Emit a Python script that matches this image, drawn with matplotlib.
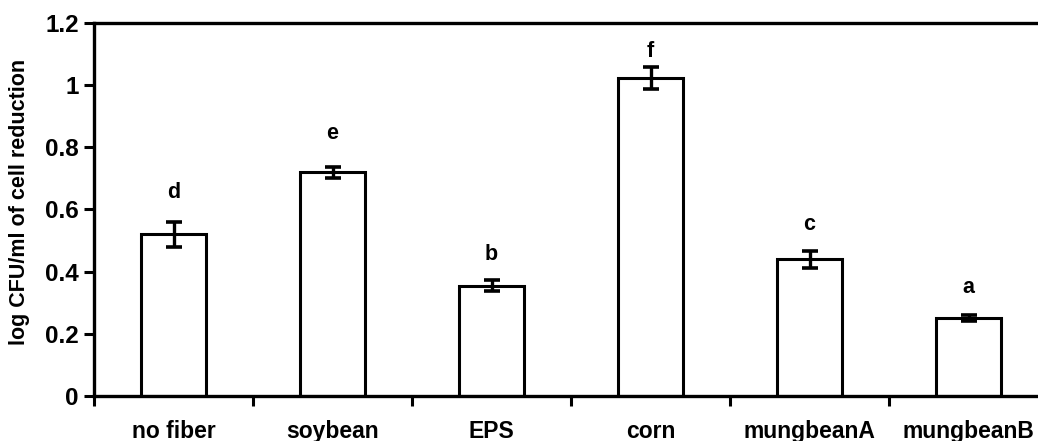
import numpy as np
import matplotlib
matplotlib.use("Agg")
import matplotlib.pyplot as plt

plt.rcParams['font.family'] = ['Liberation Sans', 'DejaVu Sans']
plt.rcParams['font.weight'] = 'bold'

# ---- data ----
treatments = ["no fiber", "soybean", "EPS", "corn", "mungbeanA", "mungbeanB"]
reduction = [0.52, 0.72, 0.355, 1.022, 0.44, 0.25]
err = [0.04, 0.018, 0.017, 0.035, 0.027, 0.01]
groups = ["d", "e", "b", "f", "c", "a"]

fig = plt.figure(figsize=(10.38, 4.41), dpi=100)
ax = fig.add_axes([94 / 1038, 1 - 396 / 441, 954 / 1038, 373 / 441])

x = np.arange(len(treatments))
ax.bar(x, reduction, width=0.41, color="white", edgecolor="black", linewidth=2.2, zorder=2)
ax.errorbar(x, reduction, yerr=err, fmt="none", ecolor="black", elinewidth=2.4,
            capsize=5.5, capthick=2.6, zorder=3)

# significance letters above each error bar
pad = [0.094, 0.106, 0.083, 0.05, 0.085, 0.09]
for xi, m, e, g, p in zip(x, reduction, err, groups, pad):
    ax.text(xi, m + e + p, g, ha="center", va="center", fontsize=15.5, fontweight="bold")

ax.set_xlim(-0.5, len(treatments) - 0.5)
ax.set_ylim(0, 1.2)
ax.set_yticks(np.arange(0, 1.21, 0.2))
ax.set_yticklabels(["0", "0.2", "0.4", "0.6", "0.8", "1", "1.2"])

# boundary ticks between categories, labels at centers
ax.set_xticks(np.arange(-0.5, len(treatments), 1.0))
ax.set_xticklabels([])
ax.set_xticks(x, minor=True)
ax.set_xticklabels(treatments, minor=True)
ax.tick_params(axis="x", which="minor", length=0, pad=17, labelsize=16.5)
ax.tick_params(axis="x", which="major", length=7, width=2.2, direction="out")
ax.tick_params(axis="y", length=7, width=2.2, direction="out", labelsize=17.5, pad=4)

for side in ["left", "bottom", "top", "right"]:
    ax.spines[side].set_linewidth(2.4)

ax.set_ylabel("log CFU/ml of cell reduction", fontsize=15.5, fontweight="bold")
ax.yaxis.set_label_coords(-0.067, 0.52)

fig.savefig("out.png", dpi=100)
